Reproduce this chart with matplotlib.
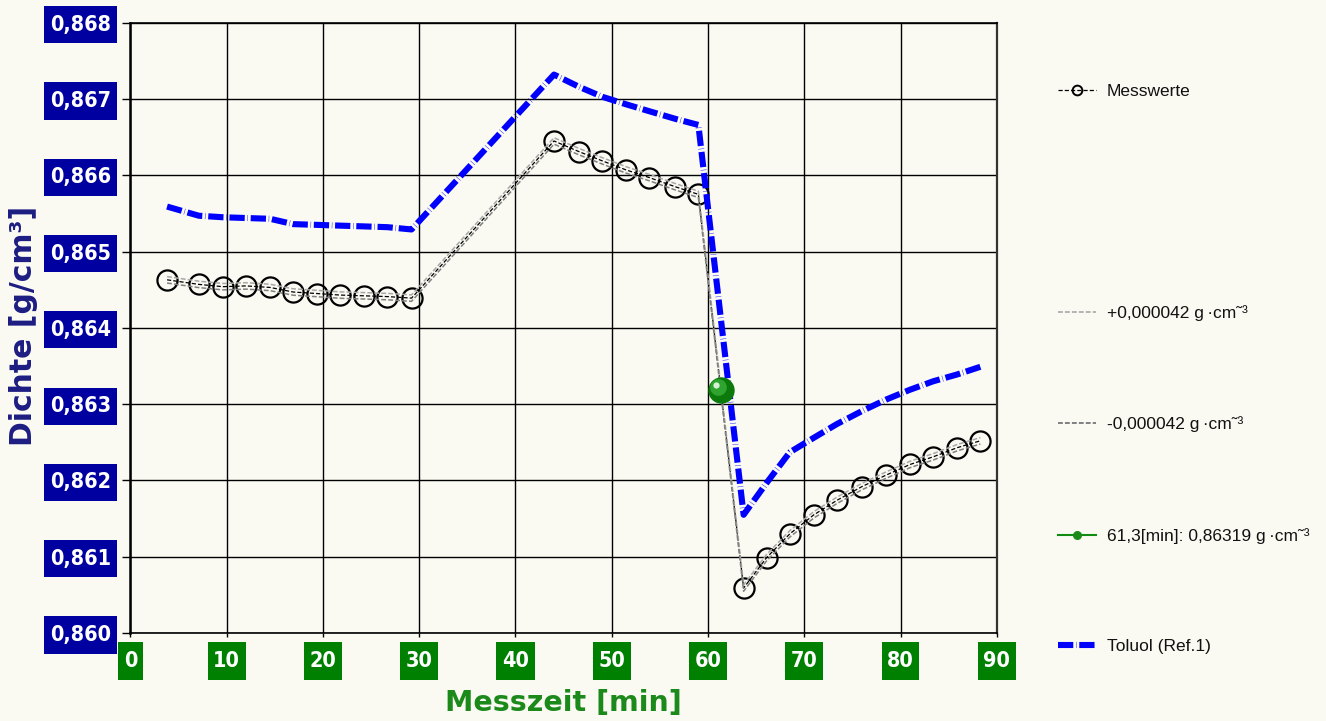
import matplotlib
matplotlib.use("Agg")
import matplotlib.pyplot as plt
from matplotlib.lines import Line2D
from matplotlib.path import Path
from matplotlib.transforms import offset_copy
import numpy as np

plt.rcParams['lines.scale_dashes'] = False

# ---------------- data ----------------
zeit = [3.8, 7.1, 9.6, 12.0, 14.5, 16.9, 19.4, 21.8, 24.3, 26.7, 29.2,
        44.0, 46.6, 49.0, 51.5, 53.9, 56.6, 59.0,
        63.7, 66.1, 68.5, 71.0, 73.4, 76.0, 78.5, 81.0, 83.4, 85.9, 88.3]
messwerte = [0.86463, 0.86457, 0.86454, 0.86455, 0.86453, 0.86447, 0.86445, 0.86443,
             0.86442, 0.86441, 0.86439,
             0.86645, 0.86631, 0.86619, 0.86607, 0.86597, 0.86585, 0.86575,
             0.86059, 0.86099, 0.86130, 0.86155, 0.86174, 0.86192, 0.86207,
             0.86221, 0.86231, 0.86243, 0.86252]
toluol = [0.86559, 0.86547, 0.86545, 0.86544, 0.86543, 0.86536, 0.86535, 0.86534,
          0.86533, 0.86532, 0.86529,
          0.86732, 0.86716, 0.86703, 0.86693, 0.86684, 0.86674, 0.86666,
          0.86155, 0.86197, 0.86237, 0.86256, 0.86274, 0.86291, 0.86306,
          0.86319, 0.86330, 0.86339, 0.86349]
toleranz = 0.000042
punkt_zeit = 61.3
punkt_dichte = 0.86319

x_ticks = [0, 10, 20, 30, 40, 50, 60, 70, 80, 90]
y_ticks = [0.860, 0.861, 0.862, 0.863, 0.864, 0.865, 0.866, 0.867, 0.868]
y_ticklabels = ["0,860", "0,861", "0,862", "0,863", "0,864", "0,865", "0,866", "0,867", "0,868"]

labels = ["Messwerte", " ", "+0,000042 g\u2009·cm˜³", "-0,000042 g\u2009·cm˜³",
          "61,3[min]: 0,86319 g\u2009·cm˜³", "Toluol (Ref.1)"]


def tick_box(x0, y0, width, height, mutation_size):
    px = 0.26 * mutation_size
    py = 0.40 * mutation_size
    xa, xb = x0 - px, x0 + width + px
    ya, yb = y0 - py, y0 + height + py
    return Path([(xa, ya), (xb, ya), (xb, yb), (xa, yb), (xa, ya)], closed=True)


# ---------------- figure ----------------
BG = '#fafaf3'
fig = plt.figure(figsize=(13.26, 7.21), dpi=100, facecolor=BG)
ax = fig.add_axes([0.0984, 0.122, 0.6533, 0.8465])
ax.set_facecolor(BG)

m = np.array(messwerte)

# measured points
ax.plot(zeit, messwerte, linestyle='none', marker='o', markersize=14.5,
        markerfacecolor='none', markeredgecolor='black', markeredgewidth=1.6, zorder=4)
ax.plot(zeit, messwerte, color='black', lw=0.9, dashes=(3, 1.5), zorder=5)
ax.plot(zeit, m + toleranz, color='#a8a8a8', lw=1.1, dashes=(3.5, 1.5), zorder=5)
ax.plot(zeit, m - toleranz, color='#808080', lw=1.1, dashes=(3.5, 1.5), zorder=5)

# reference toluene
ax.plot(zeit, toluol, color='#0000ff', lw=4.4, dashes=(11, 2.0, 0.3, 2.0),
        solid_capstyle='butt', dash_capstyle='butt', zorder=6)

# green sphere
ax.plot([punkt_zeit], [punkt_dichte], 'o', markersize=19, color='#0b7a0b',
        markeredgewidth=0, zorder=8)
tr1 = offset_copy(ax.transData, fig=fig, x=-1.8, y=1.8, units='points')
ax.plot([punkt_zeit], [punkt_dichte], 'o', markersize=12, color='#2fa52f',
        markeredgewidth=0, transform=tr1, zorder=9)
tr2 = offset_copy(ax.transData, fig=fig, x=-3.2, y=3.2, units='points')
ax.plot([punkt_zeit], [punkt_dichte], 'o', markersize=4.5, color='#d8f0d8',
        markeredgewidth=0, transform=tr2, zorder=10)

# axes
ax.set_xlim(0, 90)
ax.set_ylim(0.860, 0.868)
ax.set_xticks(x_ticks)
ax.set_yticks(y_ticks)
ax.set_yticklabels(y_ticklabels)
ax.grid(True, color='black', lw=1.0)
ax.set_axisbelow(True)
for s in ax.spines.values():
    s.set_color('black')
    s.set_linewidth(1.2)
ax.spines['left'].set_linewidth(1.8)
ax.spines['right'].set_color('#333333')
ax.spines['right'].set_linewidth(1.6)

tickfont = dict(family='DejaVu Sans', fontstretch='condensed', weight='bold', size=15.5)
ax.tick_params(axis='y', direction='out', length=6, width=1.0, pad=8)
ax.tick_params(axis='x', direction='out', length=3, width=1.0, pad=10)
for lab in ax.get_yticklabels():
    lab.set(color='white', **tickfont)
    lab.set_bbox(dict(boxstyle=tick_box, facecolor='#0000a0', edgecolor='none'))
for lab in ax.get_xticklabels():
    lab.set(color='white', **tickfont)
    lab.set_bbox(dict(boxstyle=tick_box, facecolor='#008000', edgecolor='none'))

ax.set_xlabel("Messzeit [min]", family='DejaVu Sans', weight='bold', size=20.5,
              color='#1b8a1b', va='center')
ax.xaxis.set_label_coords(0.5, -0.115)
ax.set_ylabel("Dichte [g/cm³]", family='DejaVu Sans', weight='bold', size=21.5,
              color='#1c1c82', va='center')
ax.yaxis.set_label_coords(-0.123, 0.503)

# legend
handles = [
    Line2D([], [], color='black', lw=0.9, dashes=(3, 1.5), marker='o', markersize=7,
           markerfacecolor='none', markeredgecolor='black', markeredgewidth=1.4),
    Line2D([], [], linestyle='none'),
    Line2D([], [], color='#a8a8a8', lw=1.2, dashes=(3.5, 1.5)),
    Line2D([], [], color='#808080', lw=1.4, dashes=(3.5, 1.5)),
    Line2D([], [], color='#108a10', lw=1.5, marker='o', markersize=6.5,
           markerfacecolor='#1a8a1a', markeredgewidth=0),
    Line2D([], [], color='#0000ff', lw=4.4, dashes=(11, 2.0, 0.3, 2.0),
           dash_capstyle='butt'),
]
leg = fig.legend(handles, labels, loc='upper left', bbox_to_anchor=(0.798, 0.884),
                 frameon=False, borderpad=0, borderaxespad=0, labelspacing=5.5,
                 handlelength=2.2, handletextpad=0.62,
                 prop=dict(family='Liberation Sans', size=12.5))
for t in leg.get_texts():
    t.set_color('#111111')

fig.savefig('out.png', dpi=100, facecolor=BG)
